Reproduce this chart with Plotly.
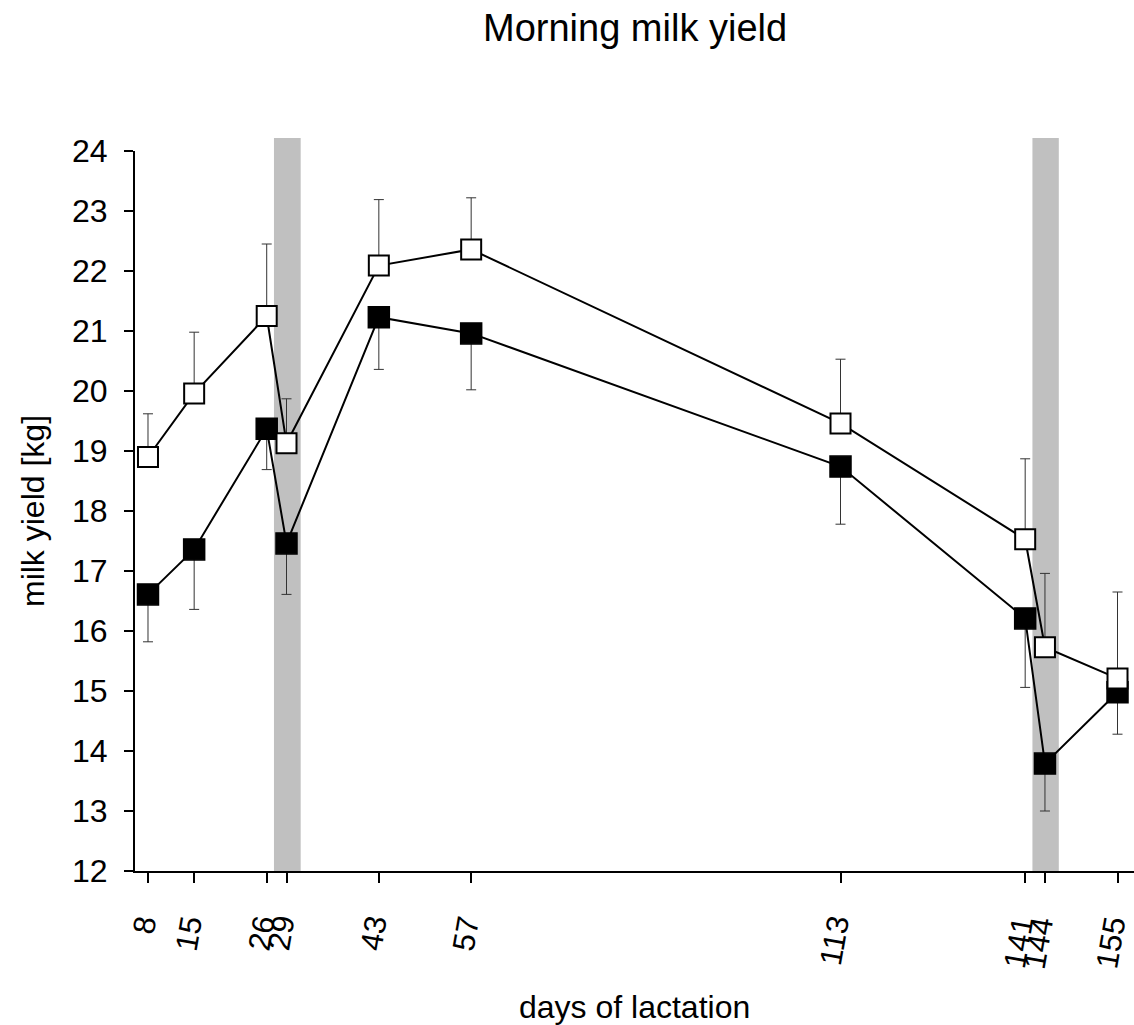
import plotly.graph_objects as go

days = [8, 15, 26, 29, 43, 57, 113, 141, 144, 155]
tick_labels = [str(d) for d in days]

open_mean = [18.90, 19.96, 21.25, 19.13, 22.09, 22.36, 19.46, 17.53, 15.73, 15.21]
open_err_up = [0.72, 1.02, 1.20, 0.74, 1.10, 0.86, 1.07, 1.34, 1.23, 1.44]

black_mean = [16.61, 17.36, 19.37, 17.46, 21.23, 20.96, 18.74, 16.21, 13.79, 14.98]
black_err_down = [0.79, 1.00, 0.68, 0.85, 0.87, 0.94, 0.96, 1.15, 0.79, 0.70]

bands = [(27.1, 31.15), (142.1, 146.1)]

fig = go.Figure()

fig.add_trace(go.Scatter(
    x=days, y=black_mean, mode="lines+markers",
    line=dict(color="black", width=2),
    marker=dict(symbol="square", size=21, color="black", line=dict(color="black", width=1.5)),
    error_y=dict(type="data", symmetric=False, array=[0] * len(days), arrayminus=black_err_down,
                 color="#333333", thickness=1, width=5),
    showlegend=False,
))

fig.add_trace(go.Scatter(
    x=days, y=open_mean, mode="lines+markers",
    line=dict(color="black", width=2),
    marker=dict(symbol="square", size=20, color="white", line=dict(color="black", width=2)),
    error_y=dict(type="data", symmetric=False, array=open_err_up, arrayminus=[0] * len(days),
                 color="#333333", thickness=1, width=5),
    showlegend=False,
))

for x0, x1 in bands:
    fig.add_shape(type="rect", xref="x", yref="paper", x0=x0, x1=x1, y0=0, y1=1.018,
                  fillcolor="#c0c0c0", line=dict(width=0), layer="below")

font = "Liberation Sans, Arial, sans-serif"

annotations = [
    dict(text="Morning milk yield", xref="paper", yref="paper", x=0.5, y=1.1708,
         showarrow=False, font=dict(size=38, family=font), xanchor="center", yanchor="middle"),
    dict(text="days of lactation", xref="paper", yref="paper", x=0.5, y=-0.1889,
         showarrow=False, font=dict(size=32, family=font), xanchor="center", yanchor="middle"),
    dict(text="milk yield [kg]", xref="paper", yref="paper", x=-0.1021, y=0.5,
         showarrow=False, textangle=-90, font=dict(size=32, family=font),
         xanchor="center", yanchor="middle"),
]
for d, lab in zip(days, tick_labels):
    annotations.append(dict(
        text=lab, xref="x", yref="paper", x=d, y=-0.058, showarrow=False,
        textangle=-80, font=dict(size=31, family=font), xanchor="center", yanchor="top",
        xshift=-2 - 1.5 * len(lab), borderpad=0,
    ))

fig.update_layout(
    width=1134, height=1025, autosize=False,
    margin=dict(l=135, r=0, t=151, b=154),
    plot_bgcolor="white", paper_bgcolor="white",
    font=dict(family=font, color="black"),
    xaxis=dict(range=[6.03, 157.5], tickvals=days, showticklabels=False,
               showline=True, linecolor="black", linewidth=2, ticks="outside", ticklen=10,
               tickwidth=2, tickcolor="black", showgrid=False, zeroline=False,
               automargin=False),
    yaxis=dict(range=[12, 24], tickvals=list(range(12, 25)), showline=True, linecolor="black",
               linewidth=2, ticks="outside", ticklen=9, tickwidth=2, tickcolor="black",
               showgrid=False, zeroline=False, tickfont=dict(size=32, family=font),
               ticklabelstandoff=10, automargin=False),
    annotations=annotations,
)

fig.write_html("out.html")
